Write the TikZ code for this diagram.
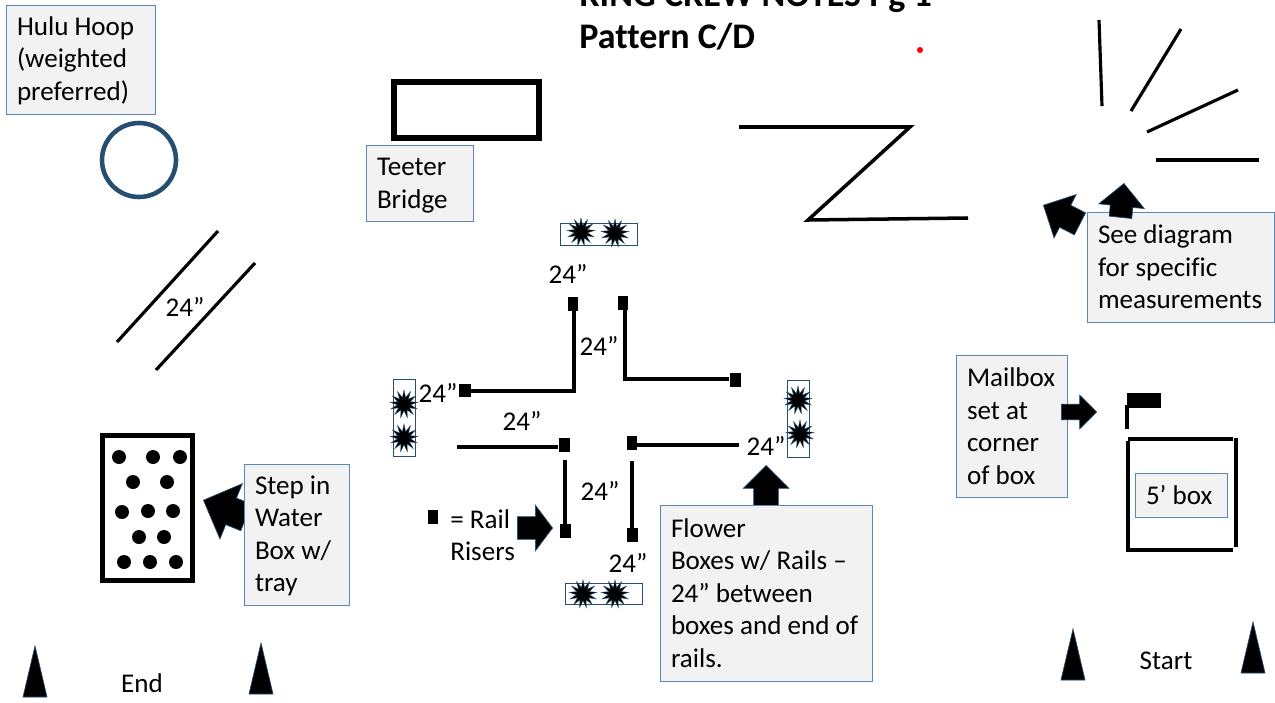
\documentclass[tikz,border=0pt]{standalone}
\usepackage{fontspec}
\setmainfont[Ligatures=NoCommon]{Carlito}
\usetikzlibrary{shapes.geometric,shapes.arrows}
\definecolor{notefill}{HTML}{F2F2F2}
\definecolor{noteline}{HTML}{5B86B5}
\definecolor{hoopblue}{HTML}{264E70}
\tikzset{
	notebox/.style 2 args = {draw = noteline, fill = notefill, line width = 0.45pt, inner xsep = 0pt, inner ysep = 0pt, align = flush left, text width = {(#1-22)*0.02cm}, minimum width = {#1*0.02cm}, minimum height = {#2*0.02cm}, font = \fontsize{15.4}{18.5}\selectfont},
	label/.style = {inner sep = 0pt, font = \fontsize{15.4}{18.5}\selectfont},
	rail/.style = {line width = 1.8pt},
	riser/.style 2 args = {fill = black, inner sep = 0pt, minimum width = {#1*0.02cm}, minimum height = {#2*0.02cm}},
	blockarrow/.style n args = {3}{single arrow, fill = black, draw = hoopblue, line width = 0.4pt, inner xsep = 0pt, inner ysep = {#3*0.01cm}, anchor = tip, minimum width = {#1*0.02cm}, minimum height = {#2*0.02cm}, single arrow head extend = {(#1-#3)*0.01cm}},
	flowerbox/.style = {draw = hoopblue, line width = 0.5pt},
	burst/.style = {star, star points = 13, star point ratio = 2.1, minimum size = 0.56cm, inner sep = 0pt, fill = black, draw = hoopblue, line width = 0.2pt}
}
\begin{document}
\begin{tikzpicture}[x = 0.02cm, y = -0.02cm]
	\useasboundingbox (0,0) rectangle (1275,703);
	\node [anchor = base west, inner sep = 0pt, font = \fontsize{20.5}{24}\selectfont\bfseries] (title) at (579,7) {RING CREW NOTES Pg 1};
	\node [anchor = base west, inner sep = 0pt, font = \fontsize{20.5}{24}\selectfont\bfseries] (pattern) at (579,49) {Pattern C/D};
	\fill [red] (920,50) circle (3);
	\draw [hoopblue, line width = 2.6pt] (139,160) circle (37);
	\draw [line width = 3.1pt] (394,82) rectangle (539,138);
	\draw [rail] (218,231) -- (117,342);
	\draw [rail] (255,263) -- (156,370);
	\node [label] (diag) at (185,307) {24”};
	\draw [line width = 2pt] (739,127) -- (910,127) -- (808,220) -- (968,218);
	\draw [rail] (1099,20) -- (1102,106);
	\draw [rail] (1181,29) -- (1131,111);
	\draw [rail] (1238,90) -- (1147,132);
	\draw [rail] (1156,160) -- (1259,160);
	\draw [line width = 2.8pt] (102.5,435.5) rectangle (192.5,580.5);
	\foreach \x/\y in {119/457,153/457,180/457,133/482,167/482,122/512,148/511,173/511,139/537,164/537,124/562,150/562,176/562}
		\fill (\x,\y) circle (7);
	\foreach \x/\y in {35/646,261/643,1073/629,1253/622}
		\draw [fill = black, draw = hoopblue, line width = 0.4pt] (\x,\y) -- ++(-12,51) -- ++(24,0) -- cycle;
	\node [label] (endtext) at (142,683) {End};
	\node [label] (starttext) at (1166,661) {Start};

	\draw [flowerbox] (560,223) rectangle (637,245);
	\draw [flowerbox] (565,583) rectangle (642,604);
	\draw [flowerbox] (393,379) rectangle (415,456);
	\draw [flowerbox] (787,380) rectangle (809,457);
	\foreach \x/\y in {581/232,615/233,583/594,615/594,404/404,404/438,798/400,800/434}
		\node [burst] at (\x,\y) {};

	\node [riser = {10}{14}] (risertop) at (573,304) {};
	\node [riser = {12}{13}] (riserleft) at (465,390) {};
	\node [riser = {10}{14}] (risertopb) at (623,303) {};
	\node [riser = {11}{14}] (riserright) at (735,380) {};
	\node [riser = {11}{14}] (risermidl) at (564,445) {};
	\node [riser = {11}{14}] (riserlowl) at (565,531) {};
	\node [riser = {10}{14}] (risermidr) at (632,443) {};
	\node [riser = {11}{14}] (riserlowr) at (632,535) {};
	\node [riser = {10}{14}] (riserkey) at (433,517) {};
	\coordinate (railendl) at (457,447);
	\coordinate (railendr) at (739,445);
	\coordinate (railtopl) at (565,460);
	\coordinate (railtopr) at (632,461);
	\coordinate (railcornl) at (574,391);
	\coordinate (railcornr) at (625,379);
	\draw [rail] (risertop.south -| railcornl) -- (railcornl) -- (riserleft.east |- railcornl);
	\draw [rail] (risertopb.south -| railcornr) -- (railcornr) -- (riserright.west |- railcornr);
	\draw [rail] (railendl) -- (risermidl.west |- railendl);
	\draw [rail] (railtopl) -- (riserlowl);
	\draw [rail] (risermidr.east |- railendr) -- (railendr);
	\draw [rail] (railtopr) -- (riserlowr);
	\node [label] at (568,274) {24”};
	\node [label] at (599,346) {24”};
	\node [label] at (438,393) {24”};
	\node [label] at (522,421) {24”};
	\node [label] at (600,491) {24”};
	\node [label] at (628,563) {24”};
	\node [label] at (766,446) {24”};
	\node [label, anchor = west, align = left] (keytext) at (450,535) {= Rail\\Risers};

	\draw [line width = 2pt] (1127,405) -- (1127,429);
	\fill (1127,393) rectangle (1161,408);
	\draw [line width = 2.2pt] (1128,439) -- (1233,439);
	\draw [line width = 2.2pt] (1128,441) -- (1128,550) -- (1233,550);
	\draw [line width = 2.2pt] (1236,438) -- (1236,547);

	\node [blockarrow = {59}{46}{28}, rotate = 158] (steparrow) at (203,500) {};
	\node [blockarrow = {45}{35}{22}, single arrow tip angle = 106] (riserarrow) at (553,528) {};
	\node [blockarrow = {45}{40}{24}, rotate = 90] (flowerarrow) at (766,465) {};
	\node [blockarrow = {48}{41}{24}, rotate = 153] (backarrow) at (1043,205) {};

	\node [notebox = {149}{109}] (hulu) at (80.5,59.5) {\rule{0pt}{12pt}Hulu Hoop\\(weighted\\preferred)};
	\node [notebox = {107}{76}] (teeter) at (419.5,183) {\rule{0pt}{13pt}Teeter\\Bridge};
	\node [notebox = {105}{141}] (water) at (296.5,534.5) {\rule{0pt}{12pt}Step in\\Water\\Box w/\\tray};
	\node [notebox = {212}{176}] (flower) at (766,593) {Flower\\Boxes w/ Rails –\\24” between\\boxes and end of\\rails.};
	\node [notebox = {187}{110}] (see) at (1180.5,267) {See diagram\\for specific\\measurements};
	\node [notebox = {111}{142}] (mailbox) at (1011.5,426) {Mailbox\\set at\\corner\\of box};
	\node [notebox = {92}{44}] (fivebox) at (1181,495) {5’ box};
	\node [blockarrow = {33}{35}{15}] (mailarrow) at (1097,412) {};
	\node [blockarrow = {45}{34}{22}, rotate = 84] (seearrow) at (1124,183) {};
\end{tikzpicture}
\end{document}
